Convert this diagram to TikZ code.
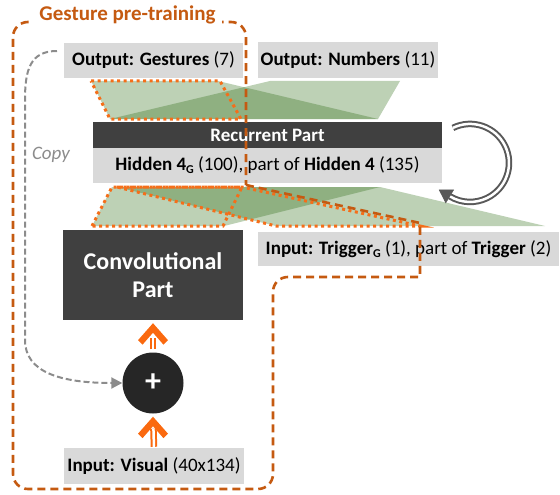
\documentclass[tikz,border=0pt]{standalone}
\usepackage{fontspec}
\setmainfont{Carlito}
\usetikzlibrary{arrows.meta}
\definecolor{boxgray}{HTML}{D9D9D9}
\definecolor{darkbox}{HTML}{404040}
\definecolor{plusfill}{HTML}{262626}
\definecolor{dashor}{HTML}{C55A11}
\definecolor{dotor}{RGB}{245,110,25}
\definecolor{arrowor}{RGB}{250,105,15}
\definecolor{fangreen}{RGB}{41,105,15}
\definecolor{copygray}{HTML}{8C8C8C}
\definecolor{recgray}{HTML}{595959}
\newcommand{\subG}{\raisebox{-3pt}{\fontsize{12}{12}\selectfont\textbf{G}}}
\begin{document}
\begin{tikzpicture}[x=1pt,y=-1pt,
  txt/.style={font=\fontsize{19}{22}\selectfont},
  graybox/.style={txt, fill=boxgray, inner sep=0pt},
  darkrect/.style={fill=darkbox, text=white, inner sep=0pt},
  fan/.style={fill=fangreen, fill opacity=0.31},
  dotline/.style={draw=dotor, line width=3pt, line cap=butt, dash pattern=on 3pt off 3.5pt},
  dashline/.style={draw=dashor, line width=2.6pt, dash pattern=on 8pt off 5pt},
  copyline/.style={draw=copygray, line width=2pt, dash pattern=on 6pt off 3pt, -{Triangle[length=11pt,width=11pt]}},
  orline/.style={draw=arrowor, line width=2pt, double=white, double distance=2.5pt},
  chevron/.style={fill=arrowor},
  recline/.style={draw=recgray, line width=2pt, double=white, double distance=2.5pt},
]
\useasboundingbox (0,0) rectangle (560,495);

% fans
\fill[fan] (91,81) -- (218,81) -- (378,119) -- (110,119) -- cycle;
\fill[fan] (270,81) -- (400,81) -- (378,119) -- (110,119) -- cycle;
\fill[fan] (112,187) -- (380,187) -- (224,226) -- (92,226) -- cycle;
\fill[fan] (117,187) -- (380,187) -- (545,226) -- (276,226) -- cycle;

% boxes
\node[graybox, minimum width=179pt, minimum height=35pt] (outG) at (153.5,60.5) {\textbf{Output: Gestures} (7)};
\node[graybox, minimum width=180pt, minimum height=36pt] (outN) at (348,60) {\textbf{Output: Numbers} (11)};
\node[darkrect, txt, minimum width=349pt, minimum height=26pt] (rec) at (267.5,135) {\textbf{Recurrent Part}};
\node[graybox, minimum width=349pt, minimum height=35pt] (hid) at (267.5,165.5) {\textbf{Hidden 4\subG} (100), part of \textbf{Hidden 4} (135)};
\node[darkrect, font=\fontsize{24}{28}\selectfont\bfseries, align=center, minimum width=180pt, minimum height=90pt] (conv) at (153,275) {Convolutional\\Part};
\node[graybox, minimum width=301pt, minimum height=34pt] (trig) at (408.5,249) {\textbf{Input: Trigger\subG} (1), part of \textbf{Trigger} (2)};
\node[graybox, minimum width=180pt, minimum height=36pt] (vis) at (154,466) {\textbf{Input: Visual} (40x134)};
\node[circle, fill=plusfill, minimum size=61pt, inner sep=0pt, text=white, font=\fontsize{32}{32}\selectfont\bfseries] (plus) at (153,383) {+};

% dotted sub-network outlines
\draw[dotline] (91,81) -- (220,81) -- (241,119) -- (110,119) -- cycle;
\draw[dotline] (92,226) -- (112,187) -- (242,187) -- (223,226) -- cycle;
\draw[dotline] (117,187) -- (242,187) -- (420,226) -- (276,226) -- cycle;

% orange double arrows
\draw[orline, shorten >=18pt, shorten <=3pt] (plus.north) -- (conv.south);
\fill[chevron] ([yshift=-3pt]conv.south) -- ++(15,17) -- ++(-4.5,4.5) -- ++(-10.5,-12) -- ++(-10.5,12) -- ++(-4.5,-4.5) -- cycle;
\draw[orline, shorten >=15pt, shorten <=1pt] (vis.north) -- (plus.south);
\fill[chevron] ([yshift=-3pt]plus.south) -- ++(15,17) -- ++(-4.5,4.5) -- ++(-10.5,-12) -- ++(-10.5,12) -- ++(-4.5,-4.5) -- cycle;

% copy arrow
\coordinate (cs) at (57,51);
\draw[copyline] (cs) .. controls (30,51) and (25,70) .. (25,100) -- (25,340) .. controls (25,372) and (60,383) .. (plus.west);
\node[txt, font=\fontsize{19}{22}\selectfont\itshape, text=copygray] (copy) at (51,155) {Copy};

% recurrent loop
\coordinate (rs) at (452.9,127.9);
\draw[recline] (rs) arc[start angle=-116, end angle=121, radius=39];
\coordinate (re) at (449.9,196.4);
\draw[recgray, line width=0.5pt, -{Triangle[length=13pt,width=16pt]}] (re) -- (438.8,189.7);

% gesture pre-training boundary
\draw[dashline] (246,185) -- (420,223) -- (420,277) -- (288,277)
  .. controls (279.7,277) and (273,283.3) .. (273,292) -- (273,474)
  .. controls (273,482.3) and (266.3,489) .. (258,489) -- (28,489)
  .. controls (19.7,489) and (13,482.3) .. (13,474) -- (13,37)
  .. controls (13,28.7) and (19.7,22) .. (28,22) -- (231,22)
  .. controls (239.3,22) and (246,28.7) .. (246,37) -- cycle;
\node[font=\fontsize{21}{24}\selectfont\bfseries, text=dashor, fill=white, inner xsep=6pt, inner ysep=2pt] (title) at (127.5,15) {Gesture pre-training};
\end{tikzpicture}
\end{document}
